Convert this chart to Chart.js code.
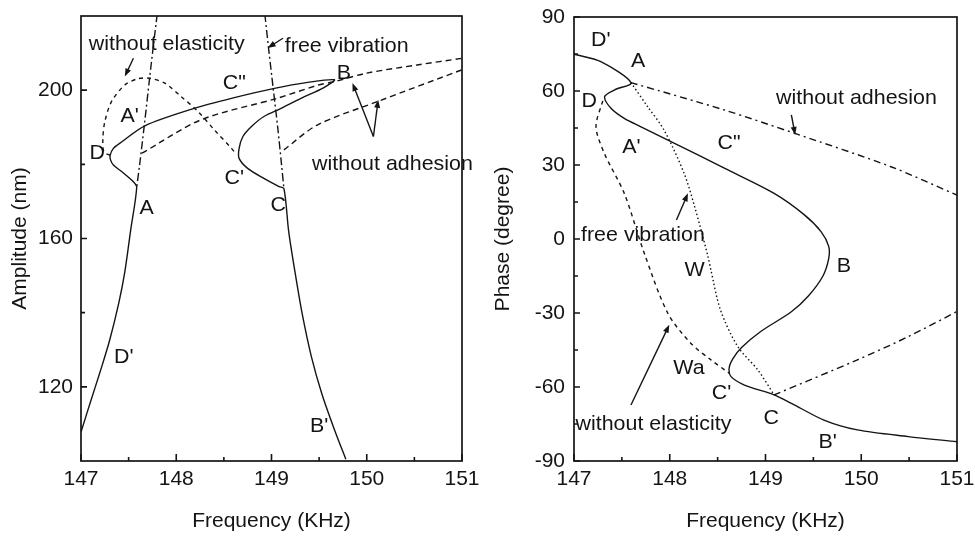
<!DOCTYPE html>
<html>
<head>
<meta charset="utf-8">
<script src="https://cdn.jsdelivr.net/npm/chart.js@4.4.1/dist/chart.umd.min.js"></script>
<style>
  html, body { margin: 0; padding: 0; background: #fff; }
  #wrap { position: relative; width: 975px; height: 536px; }
  canvas { position: absolute; top: 0; }
  #cAmp { left: 0; }
  #cPhase { left: 487px; }
</style>
</head>
<body>
<div id="wrap">
  <canvas id="cAmp" width="487" height="536"></canvas>
  <canvas id="cPhase" width="488" height="536"></canvas>
</div>
<script>
// --- axes ---
const freqTicks = [147, 148, 149, 150, 151];
const freqMinor = [147.5, 148.5, 149.5, 150.5];
const ampTicks = [120, 160, 200];
const ampMinor = [140, 180];
const phaseTicks = [-90, -60, -30, 0, 30, 60, 90];
const phaseMinor = [-75, -45, -15, 15, 45, 75];

// --- amplitude panel (freq in KHz, amplitude in nm) ---
// solid response curve, followed as one path: D' -> A -> D -> C" -> B -> C' -> C -> B'
const ampMainF = [147.0, 147.1, 147.2, 147.3, 147.4, 147.46, 147.52, 147.585,
  147.55, 147.43, 147.34, 147.31, 147.306, 147.34, 147.43, 147.67, 148.19, 148.61, 149.03, 149.38, 149.66,
  149.55, 149.31, 149.10, 148.92, 148.79, 148.70, 148.66, 148.66, 148.75, 148.92, 149.08, 149.13,
  149.18, 149.24, 149.32, 149.42, 149.53, 149.66, 149.78];
const ampMainA = [107.8, 116.0, 124.0, 132.5, 143.0, 151.0, 162.0, 173.8,
  175.3, 178.0, 179.8, 181.2, 182.4, 184.3, 186.1, 190.4, 195.1, 198.0, 200.5, 202.1, 202.8,
  200.7, 197.8, 195.1, 192.9, 190.2, 187.5, 184.3, 181.6, 178.9, 176.2, 174.0, 173.5,
  162.0, 152.0, 140.0, 128.0, 118.0, 108.5, 100.5];
// free vibration (two branches)
const ampFree1F = [147.80, 147.76, 147.72, 147.665, 147.615, 147.585];
const ampFree1A = [220.5, 212.0, 203.2, 190.6, 179.8, 173.8];
const ampFree2F = [148.93, 148.975, 149.02, 149.065, 149.105, 149.13];
const ampFree2A = [220.5, 210.0, 200.0, 190.0, 180.0, 173.5];
// without elasticity
const ampElasF = [147.306, 147.24, 147.23, 147.25, 147.32, 147.46, 147.60, 147.72, 147.88, 148.05, 148.23, 148.40, 148.58, 148.62];
const ampElasA = [182.4, 183.4, 187.0, 191.5, 196.9, 201.4, 203.1, 203.2, 201.9, 198.3, 194.2, 189.3, 184.3, 183.0];
// without adhesion (two branches)
const ampAdh1F = [147.64, 148.26, 149.06, 149.48, 149.66, 150.0, 150.53, 151.0];
const ampAdh1A = [183.0, 192.0, 197.8, 201.3, 202.3, 204.6, 206.8, 208.6];
const ampAdh2F = [149.13, 149.48, 150.11, 151.0];
const ampAdh2A = [183.9, 190.6, 196.9, 205.5];

const ampLabelText = ['without elasticity', 'free vibration', 'B', 'C"', "A'", 'D', "C'", 'without adhesion', 'A', 'C', "D'", "B'"];
const ampLabelF = [147.90, 149.79, 149.76, 148.61, 147.51, 147.17, 148.61, 150.27, 147.69, 149.07, 147.45, 149.50];
const ampLabelA = [212.4, 211.9, 204.6, 201.9, 192.9, 183.0, 176.2, 180.0, 168.1, 169.0, 128.1, 109.5];
// arrows: tail -> head
const ampArrowF0 = [147.55, 149.12, 150.07, 150.07];
const ampArrowA0 = [208.6, 214.0, 187.5, 187.5];
const ampArrowF1 = [147.46, 148.96, 149.85, 150.12];
const ampArrowA1 = [203.7, 211.4, 201.9, 197.4];

// --- phase panel (freq in KHz, phase in degree) ---
const phMainF = [147.0, 147.28, 147.595, 147.42, 147.32, 147.386, 147.525, 147.70, 148.05, 148.57, 149.09, 149.40, 149.58, 149.66,
  149.66, 149.60, 149.45, 149.27, 148.95, 148.75, 148.66, 148.62, 148.64, 148.78, 149.09, 149.27, 149.61, 149.96, 150.49, 151.0];
const phMainP = [74.9, 71.9, 63.4, 60.4, 57.7, 53.0, 48.9, 45.5, 38.8, 28.7, 18.5, 10.0, 3.0, -3.0,
  -8.0, -15.0, -23.0, -29.5, -37.5, -44.0, -48.5, -52.4, -55.8, -59.2, -63.2, -66.6, -73.4, -77.4, -80.1, -82.2];
const phFreeF = [147.595, 147.77, 147.94, 148.15, 148.26, 148.40, 148.43, 148.53, 148.71, 148.92, 149.09];
const phFreeP = [63.4, 53.6, 44.2, 26.6, 13.1, -7.2, -12.6, -28.8, -43.6, -53.1, -63.2];
const phElasF = [147.30, 147.23, 147.317, 147.525, 147.734, 147.98, 148.22, 148.43, 148.62];
const phElasP = [56.0, 45.5, 34.7, 18.5, -5.8, -30.1, -42.3, -49.0, -54.4];
const phAdh1F = [147.595, 148.57, 149.30, 150.31, 151.0];
const phAdh1P = [63.4, 52.3, 42.9, 29.3, 17.8];
const phAdh2F = [149.09, 149.96, 150.49, 151.0];
const phAdh2P = [-63.2, -49.0, -39.6, -29.4];

const phLabelText = ["D'", 'A', 'D', 'without adhesion', "A'", 'C"', 'free vibration', 'B', 'W', 'Wa', "C'", 'without elasticity', 'C', "B'"];
const phLabelF = [147.28, 147.67, 147.16, 149.95, 147.60, 148.62, 147.72, 149.82, 148.26, 148.20, 148.54, 147.83, 149.06, 149.65];
const phLabelP = [80.7, 71.9, 55.7, 57.0, 37.4, 38.8, 1.6, -11.2, -12.6, -52.4, -62.5, -75.0, -72.7, -82.2];
const phArrowF0 = [149.27, 148.07, 147.595];
const phArrowP0 = [50.3, 7.7, -67.3];
const phArrowF1 = [149.31, 148.19, 147.995];
const phArrowP1 = [42.2, 18.5, -34.8];

const INK = '#141414';
const FAMILY = '"Liberation Sans", Arial, sans-serif';
const FONT = '21px ' + FAMILY;

function pts(xs, ys) { return xs.map((x, i) => ({ x: x, y: ys[i] })); }

function curve(xs, ys, dash) {
    return { data: pts(xs, ys), showLine: true, pointRadius: 0, borderColor: INK, borderWidth: 1.4,
             borderDash: dash, tension: 0.3, fill: false };
}

// frame, inward ticks, labels and arrows
const framePlugin = {
    id: 'frame',
    afterDraw(chart, args, o) {
        const { ctx, chartArea: a, scales: { x, y } } = chart;
        ctx.save();
        ctx.strokeStyle = INK;
        ctx.lineWidth = 1.7;
        ctx.strokeRect(a.left, a.top, a.right - a.left, a.bottom - a.top);
        ctx.lineWidth = 1.6;
        ctx.beginPath();
        o.xMajor.forEach(v => { const px = x.getPixelForValue(v); ctx.moveTo(px, a.bottom); ctx.lineTo(px, a.bottom - 7); });
        o.xMinor.forEach(v => { const px = x.getPixelForValue(v); ctx.moveTo(px, a.bottom); ctx.lineTo(px, a.bottom - 4); });
        o.yMajor.forEach(v => { const py = y.getPixelForValue(v); ctx.moveTo(a.left, py); ctx.lineTo(a.left + 6, py); });
        o.yMinor.forEach(v => { const py = y.getPixelForValue(v); ctx.moveTo(a.left, py); ctx.lineTo(a.left + 4, py); });
        ctx.stroke();

        // arrows
        ctx.fillStyle = INK;
        ctx.lineWidth = 1.4;
        o.arrows.f0.forEach((f, i) => {
            const x0 = x.getPixelForValue(f), y0 = y.getPixelForValue(o.arrows.v0[i]);
            const x1 = x.getPixelForValue(o.arrows.f1[i]), y1 = y.getPixelForValue(o.arrows.v1[i]);
            const ang = Math.atan2(y1 - y0, x1 - x0);
            ctx.beginPath(); ctx.moveTo(x0, y0); ctx.lineTo(x1 - 5 * Math.cos(ang), y1 - 5 * Math.sin(ang)); ctx.stroke();
            ctx.beginPath();
            ctx.moveTo(x1, y1);
            ctx.lineTo(x1 - 8 * Math.cos(ang) + 3 * Math.sin(ang), y1 - 8 * Math.sin(ang) - 3 * Math.cos(ang));
            ctx.lineTo(x1 - 8 * Math.cos(ang) - 3 * Math.sin(ang), y1 - 8 * Math.sin(ang) + 3 * Math.cos(ang));
            ctx.closePath(); ctx.fill();
        });

        // text labels
        ctx.font = FONT;
        ctx.textAlign = 'center';
        ctx.textBaseline = 'middle';
        o.labels.text.forEach((t, i) => {
            const px = x.getPixelForValue(o.labels.f[i]), py = y.getPixelForValue(o.labels.v[i]);
            ctx.save();
            ctx.translate(px, py);
            ctx.scale(1.02, 1);
            ctx.fillText(t, 0, 0);
            ctx.restore();
        });
        ctx.restore();
    }
};

function makeChart(id, datasets, cfg) {
    return new Chart(document.getElementById(id), {
        type: 'scatter',
        data: { datasets: datasets },
        plugins: [framePlugin],
        options: {
            responsive: false,
            devicePixelRatio: 1,
            animation: false,
            layout: { padding: { top: cfg.padTop, right: cfg.padRight, left: 0, bottom: 0 } },
            plugins: {
                legend: { display: false },
                tooltip: { enabled: false },
                frame: cfg.frame
            },
            scales: {
                x: {
                    type: 'linear', min: 147, max: 151,
                    afterBuildTicks: s => { s.ticks = freqTicks.map(v => ({ value: v })); },
                    afterFit: s => { s.height = cfg.xHeight; s.paddingLeft = 0; s.paddingRight = 0; },
                    grid: { display: false, drawTicks: false },
                    border: { display: false },
                    ticks: { color: INK, font: { family: FAMILY, size: 21 }, padding: 6, maxRotation: 0 },
                    title: { display: true, text: 'Frequency (KHz)', color: INK,
                             font: { family: FAMILY, size: 21 }, padding: { top: 0, bottom: 2 } }
                },
                y: {
                    type: 'linear', min: cfg.yMin, max: cfg.yMax,
                    afterBuildTicks: s => { s.ticks = cfg.yTicks.map(v => ({ value: v })); },
                    afterFit: s => { s.width = cfg.yWidth; s.paddingTop = 0; s.paddingBottom = 0; },
                    grid: { display: false, drawTicks: false },
                    border: { display: false },
                    ticks: { color: INK, font: { family: FAMILY, size: 21 }, padding: cfg.yPad },
                    title: { display: true, text: cfg.yTitle, color: INK,
                             font: { family: FAMILY, size: 21 }, padding: { top: cfg.yTitlePad, bottom: 0 } }
                }
            }
        }
    });
}

makeChart('cAmp', [
    curve(ampMainF, ampMainA, []),
    curve(ampFree1F, ampFree1A, [8, 3, 2, 3]),
    curve(ampFree2F, ampFree2A, [8, 3, 2, 3]),
    curve(ampElasF, ampElasA, [4, 4]),
    curve(ampAdh1F, ampAdh1A, [6, 4]),
    curve(ampAdh2F, ampAdh2A, [6, 4])
], {
    padTop: 16, padRight: 25, xHeight: 75, yWidth: 81, yMin: 100, yMax: 220, yTicks: ampTicks, yPad: 8,
    yTitle: 'Amplitude (nm)', yTitlePad: 8,
    frame: {
        xMajor: freqTicks, xMinor: freqMinor, yMajor: ampTicks, yMinor: ampMinor,
        labels: { text: ampLabelText, f: ampLabelF, v: ampLabelA },
        arrows: { f0: ampArrowF0, v0: ampArrowA0, f1: ampArrowF1, v1: ampArrowA1 }
    }
});

makeChart('cPhase', [
    curve(phMainF, phMainP, []),
    curve(phFreeF, phFreeP, [1.5, 2.5]),
    curve(phElasF, phElasP, [4, 4]),
    curve(phAdh1F, phAdh1P, [7, 4, 2, 4]),
    curve(phAdh2F, phAdh2P, [7, 4, 2, 4])
], {
    padTop: 17, padRight: 18, xHeight: 75, yWidth: 87, yMin: -90, yMax: 90, yTicks: phaseTicks, yPad: 9,
    yTitle: 'Phase (degree)', yTitlePad: 4,
    frame: {
        xMajor: freqTicks, xMinor: freqMinor, yMajor: phaseTicks, yMinor: phaseMinor,
        labels: { text: phLabelText, f: phLabelF, v: phLabelP },
        arrows: { f0: phArrowF0, v0: phArrowP0, f1: phArrowF1, v1: phArrowP1 }
    }
});
</script>
</body>
</html>
